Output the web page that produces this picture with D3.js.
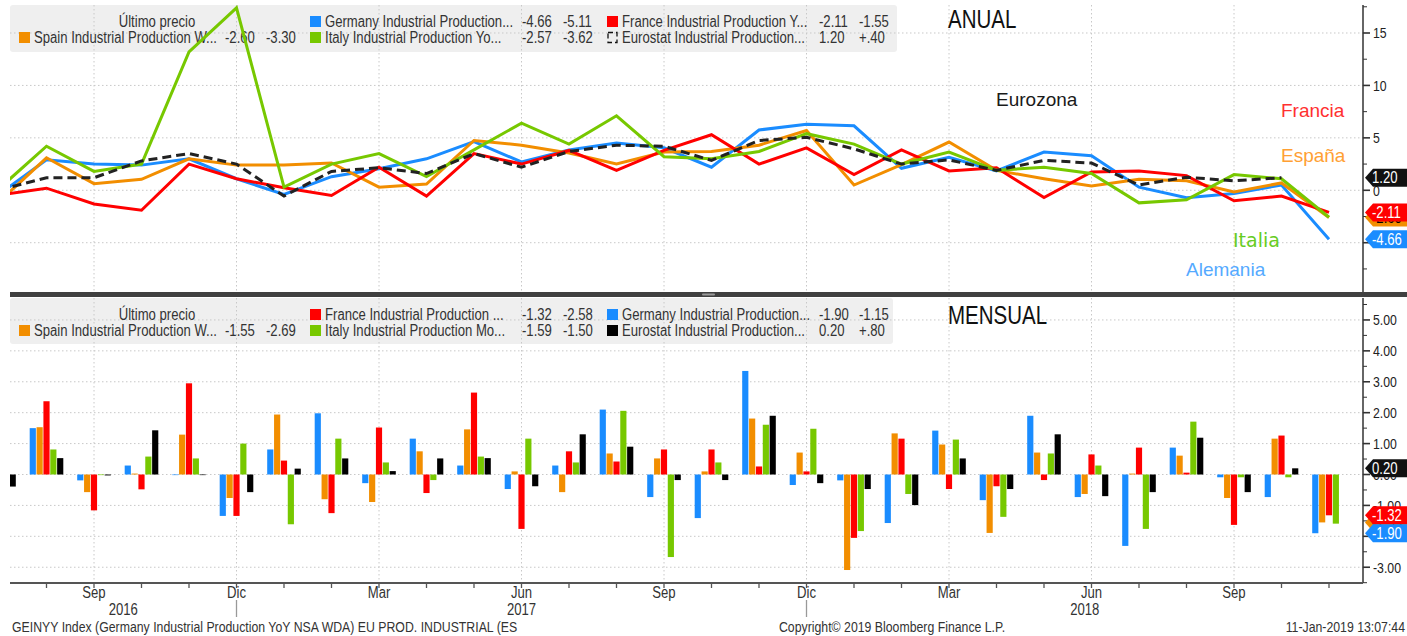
<!DOCTYPE html>
<html lang="es">
<head>
<meta charset="UTF-8">
<title>Producción industrial UE: anual y mensual</title>
<script src="https://d3js.org/d3.v7.min.js"></script>
<style>
  body { margin: 0; background: #fff; }
  svg { display: block; font-family: "Liberation Sans", Arial, sans-serif; }
</style>
</head>
<body>
<svg id="chart" width="1407" height="636"></svg>
<script>
// months shown, Jul 2016 .. Nov 2018
const months = ["2016-07","2016-08","2016-09","2016-10","2016-11","2016-12",
  "2017-01","2017-02","2017-03","2017-04","2017-05","2017-06","2017-07","2017-08","2017-09","2017-10","2017-11","2017-12",
  "2018-01","2018-02","2018-03","2018-04","2018-05","2018-06","2018-07","2018-08","2018-09","2018-10","2018-11"];

// ANUAL (YoY %)
const yoyGermany  = [-0.4, 2.9, 2.5, 2.4, 3.0, 1.1, -0.4, 1.3, 2.05, 3.0, 4.65, 2.7, 3.85, 4.5, 4.05, 2.2, 5.75, 6.3, 6.15, 2.1, 3.15, 1.85, 3.65, 3.3, 0.3, -0.7, -0.3, 0.5, -4.66];
const yoySpain    = [-1.1, 3.1, 0.63, 1.05, 3.0, 2.4, 2.4, 2.6, 0.3, 0.6, 4.75, 4.3, 3.55, 2.5, 3.65, 3.7, 4.3, 5.7, 0.5, 2.45, 4.6, 1.9, 1.1, 0.4, 1.05, 0.9, -0.15, 0.7, -2.60];
const yoyFrance   = [-0.45, 0.2, -1.3, -1.9, 2.5, 1.1, 0.25, -0.5, 2.2, -0.55, 3.5, 2.5, 3.8, 1.9, 3.8, 5.3, 2.5, 4.05, 1.5, 3.85, 1.85, 2.15, -0.7, 1.75, 1.85, 1.4, -1.0, -0.55, -2.11];
const yoyItaly    = [0.15, 4.2, 1.8, 2.5, 13.2, 17.4, 0.3, 2.5, 3.5, 1.3, 3.85, 6.4, 4.4, 7.1, 3.2, 3.0, 3.7, 5.4, 4.4, 2.5, 3.65, 1.9, 2.2, 1.6, -1.2, -0.9, 1.5, 1.1, -2.57];
const yoyEurostat = [0.03, 1.2, 1.2, 2.8, 3.5, 2.5, -0.55, 1.8, 2.15, 1.6, 3.5, 2.2, 3.7, 4.3, 4.2, 2.85, 4.75, 5.05, 3.95, 2.5, 2.9, 1.9, 2.85, 2.6, 0.5, 1.25, 0.9, 1.20, null];

// MENSUAL (MoM %)
const momGermany  = [null, 1.5, -0.19, 0.29, -0.02, -1.34, 0.81, 1.98, -0.28, 1.16, 0.29, -0.47, 0.29, 2.1, -0.73, -1.41, 3.35, -0.34, -0.19, -1.57, 1.42, -0.83, 1.9, -0.73, -2.31, 0.87, -0.09, -0.73, -1.90];
const momSpain    = [null, 1.53, -0.57, 0.03, 1.29, -0.76, 1.94, -0.8, -0.89, 0.75, 1.46, 0.1, -0.57, 0.68, 0.52, 0.1, 1.81, 0.71, -3.09, 1.33, 0.97, -1.89, 0.71, -0.63, 0.03, 0.61, -0.76, 1.16, -1.55];
const momFrance   = [null, 2.37, -1.16, -0.48, 2.95, -1.34, 0.45, -1.25, 1.52, -0.6, 2.65, -1.76, 0.75, 0.42, 0.81, 0.81, 0.26, 0.1, -2.05, 1.16, -0.47, -0.38, -0.18, 0.65, 0.87, 0.06, -1.63, 1.26, -1.32];
const momItaly    = [null, 0.81, -0.02, 0.58, 0.52, 1.0, -1.61, 1.16, 0.39, -0.18, 0.58, 1.16, 0.39, 2.06, -2.67, 0.39, 1.61, 1.48, -1.83, -0.63, 1.13, -1.37, 0.68, 0.29, -1.76, 1.71, -0.09, -0.09, -1.59];
const momEurostat = [-0.39, 0.53, -0.03, 1.43, -0.02, -0.57, 0.19, 0.52, 0.11, 0.52, 0.53, -0.38, 1.3, 0.9, -0.18, -0.18, 1.9, -0.28, -0.47, -0.99, 0.52, -0.47, 1.3, -0.7, -0.57, 1.19, -0.57, 0.20, null];

// x axis labels
const tickMonths = ["2016-09","2016-12","2017-03","2017-06","2017-09","2017-12","2018-03","2018-06","2018-09"];
const tickLabels = ["Sep","Dic","Mar","Jun","Sep","Dic","Mar","Jun","Sep"];
const yearLabels = ["2016","2017","2018"];

// right axis labels (the ones not covered by the value tags)
const topAxisLabels = [0, 5, 10, 15];
const botAxisLabels = [-3, -1, 0, 1, 2, 3, 4, 5];

// legends (Último precio / anterior)
const legendKeysYoY  = ["germany","france","spain","italy","eurostat"];
const legendNamesYoY = ["Germany Industrial Production...","France Industrial Production Y...","Spain Industrial Production W...","Italy Industrial Production Yo...","Eurostat Industrial Production..."];
const legendLastYoY  = ["-4.66","-2.11","-2.60","-2.57","1.20"];
const legendPrevYoY  = ["-5.11","-1.55","-3.30","-3.62","+.40"];

const legendKeysMoM  = ["france","germany","spain","italy","eurostat"];
const legendNamesMoM = ["France Industrial Production ...","Germany Industrial Production...","Spain Industrial Production W...","Italy Industrial Production Mo...","Eurostat Industrial Production..."];
const legendLastMoM  = ["-1.32","-1.90","-1.55","-1.59","0.20"];
const legendPrevMoM  = ["-2.58","-1.15","-2.69","-1.50","+.80"];

const colors = {germany: "#1a8cff", spain: "#f28e00", france: "#ff0000", italy: "#77c800", eurostat: "#000000"};

const yoy = {germany: yoyGermany, spain: yoySpain, france: yoyFrance, italy: yoyItaly, eurostat: yoyEurostat};
const mom = {germany: momGermany, spain: momSpain, france: momFrance, italy: momItaly, eurostat: momEurostat};

const svg = d3.select("#chart");
const plotL = 10, plotR = 1363;
const panelA = {y0: 5, y1: 292};
const panelB = {y0: 298, y1: 583};

// the terminal font is a tall narrow face: squeeze Liberation Sans horizontally
const squeeze = 0.82;
const nt = (x, y) => `translate(${x},${y}) scale(${squeeze},1)`;
function ntext(g, x, y, str) {
    return g.append("text").attr("transform", nt(x, y)).text(str);
}

const x = d3.scaleLinear().domain([0, months.length - 1]).range([-1, 1329]);
const yTop = d3.scaleLinear().domain([-9.7, 17.67]).range([panelA.y1, panelA.y0]);
const yBot = d3.scaleLinear().domain([-3.51, 5.71]).range([panelB.y1, panelB.y0]);

const defs = svg.append("defs");
[["clipA", panelA], ["clipB", panelB]].forEach(([id, p]) => {
    defs.append("clipPath").attr("id", id).append("rect")
        .attr("x", plotL).attr("y", p.y0).attr("width", plotR - plotL).attr("height", p.y1 - p.y0);
});

// legend boxes first, gridlines go over them
const slots = [{row: 0, col: 1}, {row: 0, col: 2}, {row: 1, col: 0}, {row: 1, col: 1}, {row: 1, col: 2}];
const colX = [19, 310, 607];
const valX = [[225, 266], [522, 563], [819, 859]];

function legendBox(y0, w, h) {
    svg.append("rect").attr("x", plotL).attr("y", y0).attr("width", w).attr("height", h)
        .attr("rx", 3).attr("fill", "#efefef");
}
legendBox(panelA.y0, 887, 47);
legendBox(panelB.y0, 883, 46);

function gridlines(clip, p, yScale, vals) {
    const g = svg.append("g").attr("clip-path", `url(#${clip})`)
        .attr("stroke", "#c8c8c8").attr("stroke-dasharray", "1.5,2.5");
    g.selectAll(".h").data(vals).join("line")
        .attr("x1", plotL).attr("x2", plotR)
        .attr("y1", d => yScale(d)).attr("y2", d => yScale(d));
    g.selectAll(".v").data(tickMonths).join("line")
        .attr("x1", d => x(months.indexOf(d))).attr("x2", d => x(months.indexOf(d)))
        .attr("y1", p.y0).attr("y2", p.y1);
}
gridlines("clipA", panelA, yTop, [-5, 0, 5, 10, 15]);
gridlines("clipB", panelB, yBot, d3.range(-3, 6));

function legendText(y0, keys, names, lasts, prevs, dashedKey) {
    const g = svg.append("g").attr("font-size", 16).attr("fill", "#333");
    const rowY = r => y0 + 16.5 + r * 16;
    ntext(g, 157, rowY(0) + 5.5, "Último precio").attr("text-anchor", "middle");
    keys.forEach((k, i) => {
        const s = slots[i];
        const cy = rowY(s.row);
        if (k === dashedKey) {
            g.append("rect").attr("x", colX[s.col] + 1).attr("y", cy - 5).attr("width", 9).attr("height", 10)
                .attr("fill", "none").attr("stroke", "#111").attr("stroke-width", 1.3).attr("stroke-dasharray", "5,3");
        } else {
            g.append("rect").attr("x", colX[s.col]).attr("y", cy - 5.5).attr("width", 11).attr("height", 11)
                .attr("fill", colors[k]);
        }
        ntext(g, colX[s.col] + 15, cy + 5.5, names[i]);
        ntext(g, valX[s.col][0], cy + 5.5, lasts[i]);
        ntext(g, valX[s.col][1], cy + 5.5, prevs[i]);
    });
}
legendText(panelA.y0, legendKeysYoY, legendNamesYoY, legendLastYoY, legendPrevYoY, "eurostat");
legendText(panelB.y0, legendKeysMoM, legendNamesMoM, legendLastMoM, legendPrevMoM, null);

// ANUAL lines
const lineOrder = ["germany", "spain", "france", "italy", "eurostat"];
const line = d3.line().defined(d => d != null).x((d, i) => x(i)).y(d => yTop(d));
const lines = svg.append("g").attr("clip-path", "url(#clipA)").attr("fill", "none");
lineOrder.forEach(k => {
    lines.append("path").datum(yoy[k])
        .attr("d", line)
        .attr("stroke", k === "eurostat" ? "#222" : colors[k])
        .attr("stroke-width", 3)
        .attr("stroke-dasharray", k === "eurostat" ? "9,5" : null);
});

// MENSUAL bars
const barOrder = ["germany", "spain", "france", "italy", "eurostat"];
const inner = d3.scaleBand().domain(barOrder).range([-16.8, 16.8]).paddingInner(0.1);
const bars = svg.append("g").attr("clip-path", "url(#clipB)");
barOrder.forEach(k => {
    const vals = mom[k].map((v, i) => ({v, i})).filter(d => d.v != null);
    bars.selectAll(null).data(vals).join("rect")
        .attr("x", d => x(d.i) + inner(k))
        .attr("width", inner.bandwidth())
        .attr("y", d => yBot(Math.max(0, d.v)))
        .attr("height", d => Math.abs(yBot(d.v) - yBot(0)))
        .attr("fill", colors[k]);
});

// panel titles and series annotations
const titles = svg.append("g").attr("font-size", 25).attr("fill", "#111");
ntext(titles, 948, 28, "ANUAL");
ntext(titles, 948, 324, "MENSUAL");

const notes = svg.append("g").attr("font-size", 19);
notes.append("text").attr("x", 996).attr("y", 106).attr("fill", "#1a1a1a").text("Eurozona");
notes.append("text").attr("x", 1281).attr("y", 117).attr("fill", "#ff3030").text("Francia");
notes.append("text").attr("x", 1281).attr("y", 162).attr("fill", "#ffa033").text("España");
notes.append("text").attr("x", 1233).attr("y", 247).attr("fill", "#66cc22")
    .style("font-family", "'DejaVu Sans', sans-serif").attr("font-size", 19).text("Italia");
notes.append("text").attr("x", 1186).attr("y", 276).attr("fill", "#55aaff").text("Alemania");

// right axes
function rightAxis(p, yScale, major, minor, labels, fmt) {
    const g = svg.append("g").attr("stroke", "#333");
    g.append("line").attr("x1", plotR).attr("x2", plotR).attr("y1", p.y0).attr("y2", p.y1).attr("stroke-width", 1.5);
    g.selectAll(".mi").data(minor).join("line")
        .attr("x1", plotR).attr("x2", plotR + 4)
        .attr("y1", d => yScale(d)).attr("y2", d => yScale(d));
    g.selectAll(".ma").data(major).join("line")
        .attr("x1", plotR).attr("x2", plotR + 7).attr("stroke-width", 1.6)
        .attr("y1", d => yScale(d)).attr("y2", d => yScale(d));
    svg.append("g").attr("font-size", 15).attr("fill", "#222")
        .selectAll("text").data(labels).join("text")
        .attr("transform", d => nt(plotR + 10, yScale(d) + 5.5)).text(fmt);
}
rightAxis(panelA, yTop, [-5, 0, 5, 10, 15], [-7.5, -2.5, 2.5, 7.5, 12.5, 17.5], topAxisLabels, d => d3.format("d")(d));
rightAxis(panelB, yBot, d3.range(-3, 6), d3.range(-3.5, 5.75, 1), botAxisLabels, d => d.toFixed(2));

// last value tags
function tag(yScale, v, fill, textFill) {
    const y = yScale(v);
    const g = svg.append("g");
    g.append("path")
        .attr("d", `M${plotR + 2},${y} L${plotR + 10},${y - 9} L1407,${y - 9} L1407,${y + 9} L${plotR + 10},${y + 9} Z`)
        .attr("fill", fill);
    ntext(g, plotR + 9, y + 5.5, v.toFixed(2)).attr("font-size", 16).attr("fill", textFill);
}
const lastYoY = k => yoy[k].filter(v => v != null).slice(-1)[0];
const lastMoM = k => mom[k].filter(v => v != null).slice(-1)[0];
tag(yTop, lastYoY("spain"), colors.spain, "#000");
tag(yTop, lastYoY("france"), colors.france, "#fff");
tag(yTop, lastYoY("germany"), colors.germany, "#fff");
tag(yTop, lastYoY("eurostat"), "#111", "#fff");
tag(yBot, lastMoM("spain"), colors.spain, "#000");
tag(yBot, lastMoM("france"), colors.france, "#fff");
tag(yBot, lastMoM("germany"), colors.germany, "#fff");
tag(yBot, lastMoM("eurostat"), "#111", "#fff");

// divider between the two panels
svg.append("rect").attr("x", plotL).attr("y", 292).attr("width", 1407 - plotL).attr("height", 5).attr("fill", "#404040");
svg.append("rect").attr("x", 702).attr("y", 293.5).attr("width", 13).attr("height", 2).attr("rx", 1).attr("fill", "#9a9a9a");

// bottom x axis
const xa = svg.append("g");
xa.append("line").attr("x1", plotL).attr("x2", plotR).attr("y1", panelB.y1).attr("y2", panelB.y1)
    .attr("stroke", "#555").attr("stroke-width", 2);
xa.selectAll(".t").data(months.map((m, i) => i).filter(i => x(i) > plotL && x(i) < plotR)).join("line")
    .attr("x1", d => x(d)).attr("x2", d => x(d)).attr("y1", panelB.y1).attr("y2", panelB.y1 + 5)
    .attr("stroke", "#555").attr("stroke-width", 1.3);
xa.selectAll(".l").data(tickMonths).join("text")
    .attr("transform", d => nt(x(months.indexOf(d)), 598)).attr("text-anchor", "middle")
    .attr("font-size", 16).attr("fill", "#333")
    .text((d, i) => tickLabels[i]);
// year separators at the Dic ticks, year names centred on the visible span
const yearBreaks = tickMonths.filter((m, i) => tickLabels[i] === "Dic").map(m => x(months.indexOf(m)));
xa.selectAll(".ys").data(yearBreaks).join("line")
    .attr("x1", d => d).attr("x2", d => d).attr("y1", 600).attr("y2", 617)
    .attr("stroke", "#999").attr("stroke-width", 1.3);
const spans = d3.pairs([plotL, ...yearBreaks, plotR]);
xa.selectAll(".yl").data(yearLabels).join("text")
    .attr("transform", (d, i) => nt((spans[i][0] + spans[i][1]) / 2, 615)).attr("text-anchor", "middle")
    .attr("font-size", 16).attr("fill", "#333").text(d => d);

// footer
const foot = svg.append("g").attr("font-size", 15).attr("fill", "#333");
ntext(foot, 12, 632, "GEINYY Index (Germany Industrial Production YoY NSA WDA) EU PROD. INDUSTRIAL (ES");
ntext(foot, 779, 632, "Copyright© 2019 Bloomberg Finance L.P.");
ntext(foot, 1405, 632, "11-Jan-2019 13:07:44").attr("text-anchor", "end");
</script>
</body>
</html>
